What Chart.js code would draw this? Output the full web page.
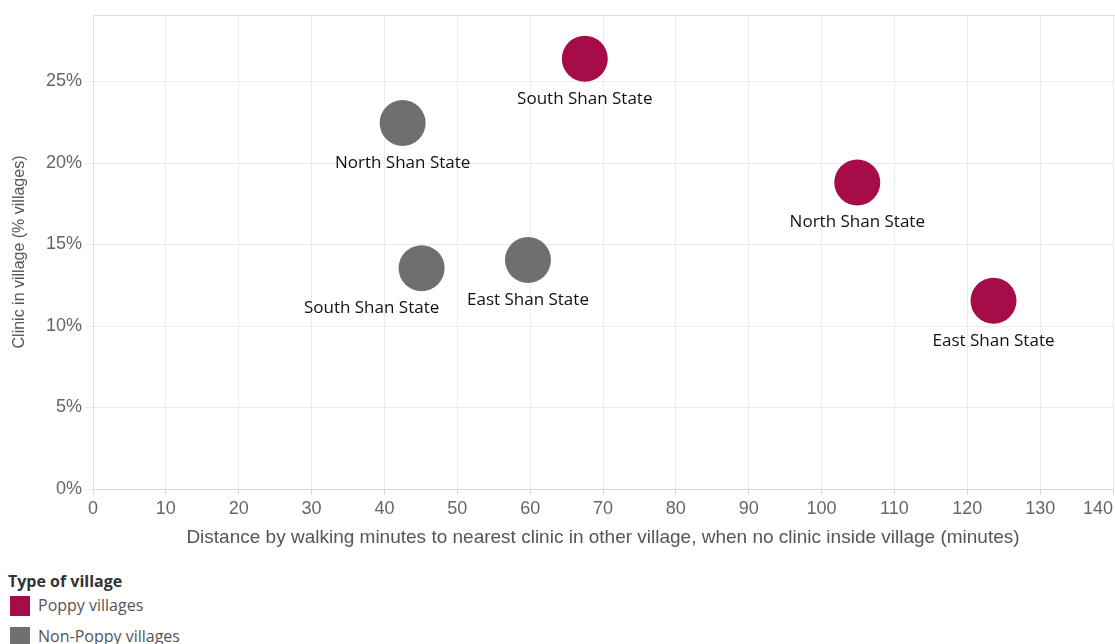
<!DOCTYPE html>
<html>
<head>
<meta charset="utf-8">
<title>Clinic access by village type</title>
<script src="https://cdn.jsdelivr.net/npm/chart.js@4/dist/chart.umd.min.js"></script>
<style>
  body { margin: 0; background: #fff; font-family: "Liberation Sans", Arial, sans-serif; }
  #wrap { position: relative; width: 1115px; height: 644px; overflow: hidden; }
  #chartBox { position: absolute; left: 0; top: 0; width: 1115px; height: 560px; }
  .legend { position: absolute; left: 8px; top: 570px; width: 400px; white-space: nowrap; font-family: "Open Sans", "Noto Sans", sans-serif; }
  .legend-title { font-weight: bold; font-size: 16px; color: #333; height: 22px; line-height: 22px; }
  .legend-item { position: relative; height: 31px; font-size: 16px; color: #555; }
  .legend-item span.sw { position: absolute; left: 2px; top: 4px; width: 20px; height: 20px; }
  .legend-item span.lbl { position: absolute; left: 30px; top: 2px; }
</style>
</head>
<body>
<div id="wrap">
  <div id="chartBox"><canvas id="scatter"></canvas></div>
  <div class="legend">
    <div class="legend-title">Type of village</div>
    <div class="legend-item"><span class="sw" style="background:#a50c48"></span><span class="lbl">Poppy villages</span></div>
    <div class="legend-item"><span class="sw" style="background:#6f6f6f"></span><span class="lbl">Non-Poppy villages</span></div>
  </div>
</div>
<script>
// Data
const seriesNames = ['Poppy villages', 'Non-Poppy villages'];
const poppyRegions = ['South Shan State', 'North Shan State', 'East Shan State'];
const poppyMinutes = [67.5, 104.9, 123.6];
const poppyClinicPct = [26.4, 18.8, 11.55];
const nonPoppyRegions = ['North Shan State', 'South Shan State', 'East Shan State'];
const nonPoppyMinutes = [42.5, 45.1, 59.7];
const nonPoppyClinicPct = [22.45, 13.55, 14.05];
const xTicks = [0, 10, 20, 30, 40, 50, 60, 70, 80, 90, 100, 110, 120, 130, 140];
const yTicks = [0, 5, 10, 15, 20, 25];

// Label nudges (pixels) so labels don't collide
const labelShift = {
  'Non-Poppy villages|South Shan State': -50
};

const axisFont = { family: '"Liberation Sans", Arial, sans-serif', size: 18 };
const lastX = xTicks[xTicks.length - 1];

function toPoints(xs, ys) {
  return xs.map((x, i) => ({ x: x, y: ys[i] }));
}

// Draws region names under each bubble, the top frame line,
// and the last x tick label pulled inside the canvas
const pointLabels = {
  id: 'pointLabels',
  beforeDatasetsDraw(chart) {
    const { ctx, chartArea } = chart;
    ctx.save();
    ctx.strokeStyle = '#dcdcdc';
    ctx.lineWidth = 1;
    ctx.beginPath();
    ctx.moveTo(chartArea.left, chartArea.top + 0.5);
    ctx.lineTo(chart.width, chartArea.top + 0.5);
    ctx.stroke();

    const xs = chart.scales.x;
    ctx.font = '18px "Liberation Sans", Arial, sans-serif';
    ctx.fillStyle = '#666';
    ctx.textAlign = 'right';
    ctx.textBaseline = 'middle';
    ctx.fillText(String(lastX), Math.min(xs.getPixelForValue(lastX) + 17, chart.width - 2), xs.top + 20);
    ctx.restore();
  },
  afterDatasetsDraw(chart) {
    const ctx = chart.ctx;
    ctx.save();
    ctx.font = '17px "Open Sans", "Noto Sans", sans-serif';
    ctx.fillStyle = '#111';
    ctx.textAlign = 'center';
    ctx.textBaseline = 'middle';
    chart.data.datasets.forEach((ds, di) => {
      const meta = chart.getDatasetMeta(di);
      meta.data.forEach((pt, i) => {
        const name = ds.regions[i];
        const dx = labelShift[ds.label + '|' + name] || 0;
        ctx.fillText(name, pt.x + dx, pt.y + 40);
      });
    });
    ctx.restore();
  }
};

new Chart(document.getElementById('scatter'), {
  type: 'scatter',
  data: {
    datasets: [
      {
        label: seriesNames[0],
        regions: poppyRegions,
        data: toPoints(poppyMinutes, poppyClinicPct),
        backgroundColor: '#a50c48',
        borderWidth: 0,
        pointRadius: 23,
        pointHoverRadius: 23
      },
      {
        label: seriesNames[1],
        regions: nonPoppyRegions,
        data: toPoints(nonPoppyMinutes, nonPoppyClinicPct),
        backgroundColor: '#6f6f6f',
        borderWidth: 0,
        pointRadius: 23,
        pointHoverRadius: 23
      }
    ]
  },
  options: {
    responsive: true,
    maintainAspectRatio: false,
    animation: false,
    layout: { autoPadding: false, padding: { top: 15, right: 2, left: 0, bottom: 0 } },
    plugins: {
      legend: { display: false },
      tooltip: { enabled: false }
    },
    scales: {
      x: {
        type: 'linear',
        min: xTicks[0],
        max: lastX,
        afterFit(scale) {
          scale.height = 71;
          scale.paddingLeft = 0;
          scale.paddingRight = 0;
        },
        afterBuildTicks(scale) { scale.ticks = xTicks.map(v => ({ value: v })); },
        grid: { color: '#ebebeb', tickLength: 6, tickColor: '#d9d9d9' },
        border: { color: '#d9d9d9' },
        ticks: {
          color: '#666',
          font: axisFont,
          padding: 3,
          maxRotation: 0,
          autoSkip: false,
          callback: v => (v === lastX ? '' : v)
        },
        title: {
          display: true,
          text: 'Distance by walking minutes to nearest clinic in other village, when no clinic inside village (minutes)',
          color: '#555',
          font: { family: '"Liberation Sans", Arial, sans-serif', size: 19 },
          padding: { top: 0, bottom: 11 }
        }
      },
      y: {
        type: 'linear',
        min: 0,
        max: 29.08,
        afterFit(scale) {
          scale.width = 93;
          scale.paddingTop = 0;
          scale.paddingBottom = 0;
        },
        afterBuildTicks(scale) { scale.ticks = yTicks.map(v => ({ value: v })); },
        grid: { color: '#ebebeb', tickLength: 8 },
        border: { color: '#dcdcdc' },
        ticks: {
          color: '#666',
          font: axisFont,
          padding: 3,
          callback: v => v + '%'
        },
        title: {
          display: true,
          text: 'Clinic in village (% villages)',
          color: '#555',
          font: { family: '"Liberation Sans", Arial, sans-serif', size: 16 },
          padding: { top: 10, bottom: 0 }
        }
      }
    }
  },
  plugins: [pointLabels]
});
</script>
</body>
</html>
